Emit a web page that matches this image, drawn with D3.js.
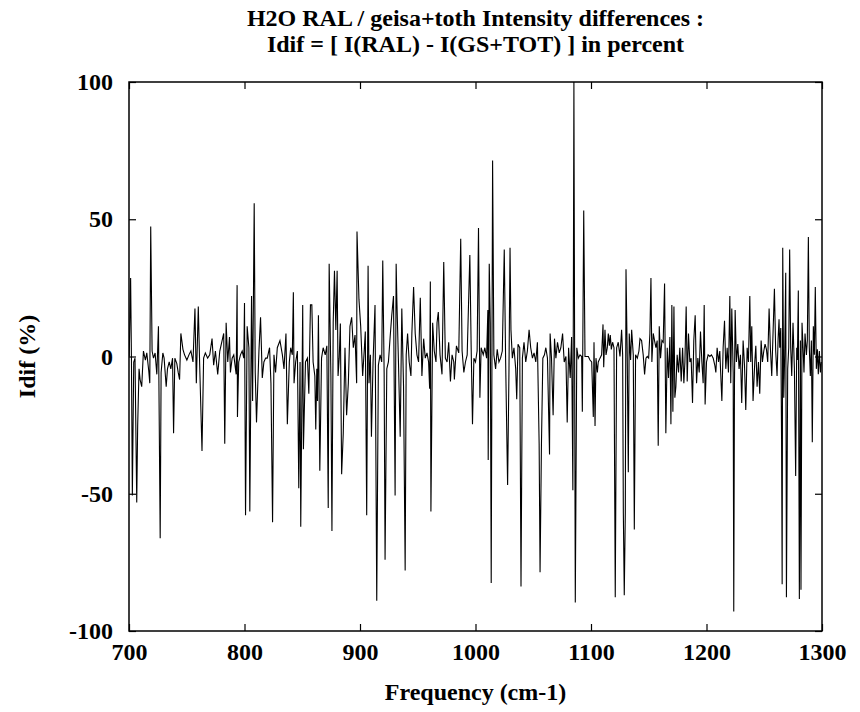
<!DOCTYPE html>
<html>
<head>
<meta charset="utf-8">
<script src="https://cdn.jsdelivr.net/npm/d3@7"></script>
<style>
  body { margin: 0; background: #fff; }
  text { font-family: "Liberation Serif", "Times New Roman", serif; font-weight: bold; fill: #000; }
</style>
</head>
<body>
<svg id="chart"></svg>
<script>
var width = 860,
    height = 712,
    margin = {top: 82, right: 38, bottom: 81, left: 129};

const titleLines = ["H2O RAL / geisa+toth Intensity differences :",
                    "Idif = [ I(RAL) - I(GS+TOT) ] in percent"];
const xLabel = "Frequency (cm-1)";
const yLabel = "Idif (%)";
const xTicks = [700, 800, 900, 1000, 1100, 1200, 1300];
const yTicks = [-100, -50, 0, 50, 100];

// [frequency cm-1, Idif %]
const spectrum = [
  [700.2, 0], [701.4, 28.6], [702.1, 0], [702.9, -50.6], [704.1, -2], [705.2, -0.6],
  [706.7, -53.2], [707.5, -25.3], [708.7, -4.5], [709.6, -8.4], [711.0, -11], [712.5, 2],
  [714.2, -1.3], [715.4, 1.3], [717.1, -5.2], [718.0, -9.7], [718.8, 47.4], [720.0, 2],
  [721.2, -0.6], [722.6, 1.3], [724.1, -6.5], [725.5, 11], [727.0, -66.2], [727.8, -5.8],
  [729.3, 1.3], [730.4, -0.6], [732.2, -11], [733.3, -4.5], [734.8, -2], [736.2, -4.5],
  [737.7, -0.6], [738.6, -28], [739.7, -0.6], [741.4, -2.6], [742.6, -5.8], [743.8, -8.4],
  [744.9, 8.4], [746.7, 2.6], [748.1, 0.6], [750.1, -1.3], [751.9, 0.6], [753.6, 2],
  [755.4, -2], [757.1, 17.5], [758.3, -9.7], [760.0, 18.2], [761.2, -3.2], [763.2, -34.4],
  [764.6, -0.6], [766.1, 1.3], [768.1, -0.6], [769.9, 0.6], [771.9, 6.5], [773.3, -3.2],
  [774.8, 2], [776.8, -6.5], [778.6, 2], [780.6, 5.8], [782.0, 8.4], [782.9, -31.8],
  [784.1, 12.3], [785.5, -2], [787.0, 7.1], [787.8, -5.8], [789.3, -0.6], [790.7, 0.6],
  [792.2, -4.5], [792.8, -6.5], [793.6, 26], [793.9, -22], [795.0, -2], [796.5, 0.6],
  [798.0, 2], [799.4, -0.6], [800.0, 19.5], [800.9, -57.8], [802.3, 11], [803.8, 3.2],
  [804.6, -56.5], [806.1, 22], [807.0, -16.2], [808.4, 55.8], [809.3, -5.8], [810.4, -24],
  [812.5, 2], [813.9, 14.3], [815.4, -7.8], [816.8, -2], [818.3, -0.6], [819.7, -0.6],
  [821.7, 3.2], [822.9, -9.7], [824.3, -60.4], [825.5, 0.6], [826.9, -5.8], [828.4, 3.2],
  [830.7, 5.8], [832.8, 0.6], [834.2, -4.5], [835.9, 8.4], [837.1, -24.7], [838.8, -2],
  [840.0, 3.2], [841.4, 0.6], [842.3, 23.4], [842.9, -9.7], [844.3, -2], [845.8, 2],
  [847.0, -48], [848.1, -2], [848.7, -62], [850.4, 18.8], [851.0, -33.8], [852.8, -2],
  [854.5, -0.6], [855.7, -13.6], [857.1, 18.8], [858.3, 18.8], [859.4, -2], [860.9, -7.1],
  [861.7, -26.6], [862.6, -4.5], [863.2, -16.2], [864.0, 15], [865.2, -41.6], [866.7, -0.6],
  [868.1, 3.2], [869.9, 0.6], [871.3, 3.9], [872.5, -55.2], [873.3, 33.8], [874.8, -7.1],
  [875.7, -63.6], [876.8, 12.3], [877.9, 31.2], [879.1, 9.7], [880.2, 31.2], [881.0, -7.1],
  [882.0, -0.6], [883.0, 12], [884.1, -42.9], [885.5, -28], [887.0, 3.2], [888.4, -21.4],
  [889.9, -9.7], [891.3, 11], [892.8, 14.3], [894.2, 3.2], [895.7, 7.8], [897.1, -9.7],
  [897.4, 45.5], [899.1, 20.8], [900.6, 11], [902.3, -7.1], [903.8, 3.2], [904.6, 9.1],
  [905.8, -57.8], [907.0, 33.1], [907.8, -9.7], [909.0, 0.6], [909.9, -29.2], [911.3, -2],
  [913.0, 18.8], [914.5, -89], [915.9, -3.2], [917.4, 0.6], [918.8, -2], [919.7, 35],
  [920.9, -5.8], [921.7, -74], [923.2, -4.5], [924.6, -2], [926.1, 7.1], [927.5, 15],
  [929.0, 22], [930.4, -50.6], [931.3, 33.8], [931.9, 20.8], [933.3, -2], [934.8, -29.2],
  [936.2, 17.5], [937.7, -11], [939.1, -78], [940.0, 0.6], [941.2, 8.4], [942.6, -2],
  [944.1, -7.1], [944.9, 8.4], [946.4, 25.3], [947.8, 8.4], [949.3, 0.6], [950.7, -2],
  [952.2, 21.4], [953.6, -7.1], [955.1, 6.5], [956.5, -0.6], [958.0, 1.3], [959.4, -2],
  [960.3, -11.7], [960.9, 27.3], [961.4, -56.5], [962.9, 12.3], [964.3, 2], [965.8, -2],
  [966.7, 12.3], [967.8, 16.2], [969.3, 0.6], [971.0, -6.5], [972.5, 34.4], [973.9, -0.6],
  [975.4, -2], [976.8, 5.2], [978.3, -9.1], [979.7, 0.6], [981.2, -2], [981.7, -8.4],
  [983.5, 3.9], [985.5, 1.3], [987.2, 42.9], [988.4, 2], [989.9, -5.8], [991.3, -2],
  [992.8, 0.6], [995.1, 37], [996.2, 4.5], [997.4, -24.7], [998.6, -0.6], [1000.0, -2],
  [1001.4, 2], [1002.6, 46.8], [1003.8, -15], [1004.9, 3.2], [1006.7, 0.6], [1008.1, 3.2],
  [1009.6, -0.6], [1010.7, 16.9], [1011.0, -37.7], [1011.9, 33.8], [1012.8, 12.3], [1013.6, -82.5],
  [1014.8, 71.4], [1015.9, 0.6], [1017.4, -4.5], [1018.8, 2.6], [1020.3, -2], [1021.7, -0.6],
  [1023.2, 2], [1024.9, 39], [1026.1, -2], [1027.8, -46.8], [1029.0, -4.5], [1029.9, 39.6],
  [1030.7, 9.7], [1031.9, -0.6], [1033.3, 3.2], [1034.8, -4.5], [1035.7, -15.6], [1036.8, 4.5],
  [1038.3, 3.2], [1039.4, -83.8], [1040.6, -0.6], [1042.0, 5.2], [1043.5, -2], [1044.9, 2],
  [1046.4, 9.7], [1047.8, 3.2], [1049.3, -0.6], [1050.7, 1.3], [1052.2, -2], [1053.6, 5.2],
  [1055.1, -31.8], [1055.9, -78.6], [1057.1, -31.8], [1058.3, -0.6], [1059.7, 0.6], [1060.9, 3.2],
  [1062.3, -0.6], [1064.1, -35.7], [1064.6, 8.4], [1065.8, -0.6], [1067.2, -21.4], [1068.4, 6.5],
  [1069.6, -0.6], [1071.0, 5.2], [1072.5, 1.3], [1073.9, 3.2], [1075.4, 8.4], [1076.8, -2],
  [1078.3, 0], [1079.4, -24], [1080.6, 3.2], [1082.0, -7.8], [1083.2, 7.1], [1084.3, -48.7],
  [1085.2, 100], [1086.4, -89.6], [1087.7, 3.2], [1089.0, -0.6], [1090.5, 0.6], [1091.9, 0],
  [1092.5, -20.1], [1093.7, 53.2], [1094.8, 0], [1096.3, 0], [1097.7, 0], [1099.1, -1.3],
  [1100.6, -2], [1102.0, -22], [1102.6, 5.2], [1103.5, -25.3], [1104.3, -0.6], [1105.5, -5.8],
  [1106.3, -2], [1107.8, -0.6], [1109.2, 0.6], [1110.4, 11.7], [1111.0, -3.9], [1112.1, 9.7],
  [1113.0, 0.6], [1114.1, 3.2], [1115.0, 8.4], [1115.9, 3.9], [1116.7, 7.8], [1117.6, 2.6],
  [1118.7, 5.2], [1119.9, 3.2], [1121.0, -87.7], [1122.2, 3.2], [1123.6, 5.2], [1125.1, 0],
  [1126.5, 9.7], [1127.4, 0.6], [1128.0, -57], [1128.8, -87], [1129.7, -57], [1130.3, 31.8],
  [1131.4, -0.6], [1132.3, -42.2], [1133.1, 8.4], [1134.3, -1.3], [1135.2, 9.7], [1136.6, 0.6],
  [1137.5, -63], [1138.6, 0.6], [1140.1, -0.6], [1141.5, 2], [1142.4, 6.5], [1143.8, 5.8],
  [1145.2, 0.6], [1146.4, -6.5], [1147.6, -0.6], [1148.7, 0], [1149.9, -0.6], [1151.0, 8.4],
  [1151.9, 28.6], [1152.7, -2], [1153.9, 8.4], [1155.0, 5.8], [1156.2, 3.2], [1157.3, 5.8],
  [1158.2, -32.5], [1159.1, 11], [1160.2, -0.6], [1161.4, 5.8], [1162.5, 5.2], [1163.7, 26.6],
  [1164.8, -28], [1166.0, 3.2], [1167.1, -7.8], [1168.3, 7.1], [1169.2, -24.7], [1170.0, 18.8],
  [1170.9, -20.1], [1171.8, 18.2], [1172.6, -15], [1173.5, -11], [1174.6, 0.6], [1175.8, -5.8],
  [1176.9, 3.2], [1178.1, -9.1], [1179.3, 3.2], [1180.4, -9.7], [1181.3, -2], [1182.4, 18.2],
  [1183.3, -9.1], [1184.4, 8.4], [1185.6, -2], [1186.7, -0.6], [1187.9, -16.9], [1189.0, 5.8],
  [1190.2, 15], [1191.4, -9.7], [1192.5, -0.6], [1193.7, -5.8], [1194.8, 9.1], [1196.0, -2],
  [1197.1, -9.7], [1198.0, 18.8], [1198.8, -17.5], [1200.0, -2], [1201.4, 0.6], [1202.9, 0],
  [1204.3, 0.6], [1205.8, -0.6], [1207.2, -3.2], [1208.1, -5.8], [1209.2, 3.2], [1210.4, -2],
  [1211.5, 2], [1213.3, -16.2], [1214.4, 3.2], [1215.6, 13], [1216.7, -4.5], [1217.9, 3.2],
  [1219.0, -5.8], [1220.2, 22], [1221.0, -9.7], [1221.9, 17.5], [1223.1, -5.8], [1223.6, -92.9],
  [1224.2, -11], [1224.8, 16.9], [1225.9, -2], [1227.1, 4.5], [1228.2, -4.5], [1229.4, 0.6],
  [1230.5, -16.9], [1231.7, 5.8], [1232.9, -3.2], [1234.0, -19.5], [1235.2, 3.2], [1236.3, -2],
  [1237.5, 22], [1238.3, -2], [1239.2, 11], [1240.3, -16.2], [1241.8, -2], [1242.7, 3.9],
  [1243.8, -11], [1245.0, -2], [1246.1, -13.6], [1247.3, 5.8], [1248.4, -2], [1249.6, 2],
  [1250.7, 4.5], [1251.9, 2.6], [1253.0, -2], [1254.2, 17.5], [1255.3, 3.2], [1256.5, -7.1],
  [1257.6, 8.4], [1258.8, 24.7], [1259.9, 2], [1261.1, -7.1], [1262.0, 6.5], [1262.8, 13.6],
  [1263.4, 3.2], [1264.3, 10.4], [1265.0, -29.9], [1265.5, -83], [1266.0, 39.6], [1266.9, -15],
  [1267.7, 0.6], [1268.6, 30.5], [1269.2, -87.7], [1270.3, -4.5], [1271.2, 3.2], [1272.0, 39],
  [1272.9, 3.2], [1273.8, -7.1], [1274.9, 12.3], [1276.1, -4.5], [1277.2, -43.5], [1278.1, 3.2],
  [1278.7, -1.3], [1279.5, 24], [1280.4, -88.3], [1281.3, 5.8], [1281.8, -85], [1282.7, 12.3],
  [1283.6, 3.2], [1284.4, -5.8], [1285.3, 8.4], [1286.5, 0.6], [1287.3, 5.8], [1288.2, 43.5],
  [1289.0, 3.2], [1289.9, -7.1], [1290.8, 5.8], [1291.6, -31.2], [1292.5, 11], [1293.4, 0.6],
  [1294.2, 25.3], [1295.1, -4.5], [1296.0, 2.6], [1296.8, -6.5], [1297.7, 2], [1298.6, -5.8],
  [1299.4, -2]
];

let svg = d3.select("#chart")
    .attr("width", width)
    .attr("height", height);

let x = d3.scaleLinear()
    .domain([700, 1300])
    .range([margin.left, width - margin.right]);

let y = d3.scaleLinear()
    .domain([-100, 100])
    .range([height - margin.bottom, margin.top]);

let plotW = width - margin.left - margin.right,
    plotH = height - margin.top - margin.bottom;

// data line, clipped to the frame
svg.append("clipPath")
    .attr("id", "plot_clip")
  .append("rect")
    .attr("x", margin.left)
    .attr("y", margin.top)
    .attr("width", plotW)
    .attr("height", plotH);

let line = d3.line()
    .x(d => x(d[0]))
    .y(d => y(d[1]));

svg.append("path")
    .datum(spectrum)
    .attr("clip-path", "url(#plot_clip)")
    .attr("fill", "none")
    .attr("stroke", "#000")
    .attr("stroke-width", 1.1)
    .attr("d", line);

// axes with inward ticks, mirrored on top and right
let tickLen = 7;
let plainNum = d => String(d);   // keep the ASCII hyphen of the original

svg.append("g")
    .attr("transform", `translate(0, ${height - margin.bottom})`)
    .call(d3.axisBottom(x).tickValues(xTicks).tickSize(-tickLen).tickPadding(12).tickFormat(plainNum))
    .call(g => g.select(".domain").remove());

svg.append("g")
    .attr("transform", `translate(0, ${margin.top})`)
    .call(d3.axisTop(x).tickValues(xTicks).tickSize(-tickLen).tickFormat(""))
    .call(g => g.select(".domain").remove());

svg.append("g")
    .attr("transform", `translate(${margin.left}, 0)`)
    .call(d3.axisLeft(y).tickValues(yTicks).tickSize(-tickLen).tickPadding(16).tickFormat(plainNum))
    .call(g => g.select(".domain").remove());

svg.append("g")
    .attr("transform", `translate(${width - margin.right}, 0)`)
    .call(d3.axisRight(y).tickValues(yTicks).tickSize(-tickLen).tickFormat(""))
    .call(g => g.select(".domain").remove());

svg.selectAll(".tick line")
    .attr("stroke", "#000")
    .attr("stroke-width", 1.2);

svg.selectAll(".tick text")
    .style("font-family", "'Liberation Serif', serif")
    .style("font-weight", "bold")
    .style("font-size", "24px");

// frame
svg.append("rect")
    .attr("x", margin.left)
    .attr("y", margin.top)
    .attr("width", plotW)
    .attr("height", plotH)
    .attr("fill", "none")
    .attr("stroke", "#000")
    .attr("stroke-width", 1.5);

// Title
svg.append("g")
    .selectAll("text")
    .data(titleLines)
    .join("text")
    .attr("x", margin.left + plotW / 2)
    .attr("y", (d, i) => 26 + i * 26)
    .style("text-anchor", "middle")
    .style("font-size", "24px")
    .text(d => d);

// X axis label
svg.append("text")
    .attr("transform", `translate(${margin.left + plotW / 2}, 700)`)
    .style("text-anchor", "middle")
    .style("font-size", "24px")
    .text(xLabel);

// Y axis label
svg.append("text")
    .attr("transform", `translate(35, ${margin.top + plotH / 2}) rotate(-90)`)
    .style("text-anchor", "middle")
    .style("font-size", "24px")
    .text(yLabel);
</script>
</body>
</html>
